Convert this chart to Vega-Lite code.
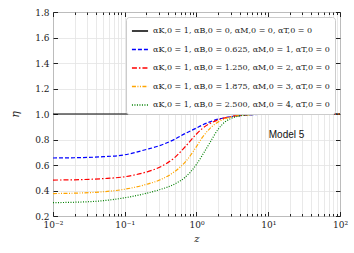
{
  "$schema": "https://vega.github.io/schema/vega-lite/v6.json",
  "width": 287,
  "height": 204,
  "autosize": {"type": "none"},
  "padding": {"left": 53, "top": 12, "right": 14, "bottom": 37},
  "background": "white",
  "config": {
    "view": {"stroke": "#222", "strokeWidth": 1},
    "font": "DejaVu Serif"
  },
  "resolve": {"axis": {"x": "independent", "y": "independent"}},
  "datasets": {
    "curves": [
      {"z": 0.01, "s": "1", "eta": 1}, {"z": 0.1, "s": "1", "eta": 1}, {"z": 1, "s": "1", "eta": 1}, {"z": 10, "s": "1", "eta": 1}, {"z": 100, "s": "1", "eta": 1},
      {"z": 0.01, "s": "2", "eta": 0.655}, {"z": 0.02, "s": "2", "eta": 0.657}, {"z": 0.05, "s": "2", "eta": 0.665}, {"z": 0.1, "s": "2", "eta": 0.68}, {"z": 0.2, "s": "2", "eta": 0.722}, {"z": 0.3, "s": "2", "eta": 0.75}, {"z": 0.5, "s": "2", "eta": 0.803}, {"z": 0.7, "s": "2", "eta": 0.848}, {"z": 1, "s": "2", "eta": 0.89}, {"z": 1.2, "s": "2", "eta": 0.913}, {"z": 1.5, "s": "2", "eta": 0.936}, {"z": 2, "s": "2", "eta": 0.96}, {"z": 2.5, "s": "2", "eta": 0.971}, {"z": 3, "s": "2", "eta": 0.979}, {"z": 4, "s": "2", "eta": 0.987}, {"z": 5, "s": "2", "eta": 0.992}, {"z": 7, "s": "2", "eta": 0.996}, {"z": 10, "s": "2", "eta": 0.999}, {"z": 20, "s": "2", "eta": 1}, {"z": 50, "s": "2", "eta": 1}, {"z": 100, "s": "2", "eta": 1},
      {"z": 0.01, "s": "3", "eta": 0.482}, {"z": 0.02, "s": "3", "eta": 0.484}, {"z": 0.05, "s": "3", "eta": 0.493}, {"z": 0.1, "s": "3", "eta": 0.508}, {"z": 0.2, "s": "3", "eta": 0.545}, {"z": 0.3, "s": "3", "eta": 0.58}, {"z": 0.5, "s": "3", "eta": 0.66}, {"z": 0.7, "s": "3", "eta": 0.745}, {"z": 1, "s": "3", "eta": 0.843}, {"z": 1.2, "s": "3", "eta": 0.885}, {"z": 1.5, "s": "3", "eta": 0.922}, {"z": 2, "s": "3", "eta": 0.954}, {"z": 2.5, "s": "3", "eta": 0.97}, {"z": 3, "s": "3", "eta": 0.98}, {"z": 4, "s": "3", "eta": 0.99}, {"z": 5, "s": "3", "eta": 0.994}, {"z": 7, "s": "3", "eta": 0.998}, {"z": 10, "s": "3", "eta": 1}, {"z": 20, "s": "3", "eta": 1}, {"z": 50, "s": "3", "eta": 1}, {"z": 100, "s": "3", "eta": 1},
      {"z": 0.01, "s": "4", "eta": 0.376}, {"z": 0.02, "s": "4", "eta": 0.379}, {"z": 0.05, "s": "4", "eta": 0.39}, {"z": 0.1, "s": "4", "eta": 0.41}, {"z": 0.2, "s": "4", "eta": 0.448}, {"z": 0.3, "s": "4", "eta": 0.48}, {"z": 0.5, "s": "4", "eta": 0.55}, {"z": 0.7, "s": "4", "eta": 0.625}, {"z": 1, "s": "4", "eta": 0.745}, {"z": 1.2, "s": "4", "eta": 0.815}, {"z": 1.5, "s": "4", "eta": 0.88}, {"z": 2, "s": "4", "eta": 0.937}, {"z": 2.5, "s": "4", "eta": 0.962}, {"z": 3, "s": "4", "eta": 0.976}, {"z": 4, "s": "4", "eta": 0.988}, {"z": 5, "s": "4", "eta": 0.993}, {"z": 7, "s": "4", "eta": 0.997}, {"z": 10, "s": "4", "eta": 1}, {"z": 20, "s": "4", "eta": 1}, {"z": 50, "s": "4", "eta": 1}, {"z": 100, "s": "4", "eta": 1},
      {"z": 0.01, "s": "5", "eta": 0.305}, {"z": 0.02, "s": "5", "eta": 0.308}, {"z": 0.05, "s": "5", "eta": 0.32}, {"z": 0.1, "s": "5", "eta": 0.343}, {"z": 0.2, "s": "5", "eta": 0.378}, {"z": 0.3, "s": "5", "eta": 0.405}, {"z": 0.5, "s": "5", "eta": 0.452}, {"z": 0.7, "s": "5", "eta": 0.505}, {"z": 1, "s": "5", "eta": 0.605}, {"z": 1.2, "s": "5", "eta": 0.675}, {"z": 1.5, "s": "5", "eta": 0.765}, {"z": 2, "s": "5", "eta": 0.88}, {"z": 2.5, "s": "5", "eta": 0.938}, {"z": 3, "s": "5", "eta": 0.964}, {"z": 4, "s": "5", "eta": 0.985}, {"z": 5, "s": "5", "eta": 0.992}, {"z": 7, "s": "5", "eta": 0.998}, {"z": 10, "s": "5", "eta": 1}, {"z": 20, "s": "5", "eta": 1}, {"z": 50, "s": "5", "eta": 1}, {"z": 100, "s": "5", "eta": 1}
    ],
    "note": [{"z": 18, "eta": 0.835, "label": "Model 5"}]
  },
  "layer": [
    {
      "data": {"name": "curves"},
      "mark": {"type": "line", "strokeWidth": 1.2, "interpolate": "monotone", "clip": true},
      "encoding": {
        "x": {
          "field": "z", "type": "quantitative",
          "scale": {"type": "log", "domain": [0.01, 100], "nice": false},
          "axis": {
            "title": "z", "titleFont": "DejaVu Serif", "titleFontStyle": "italic", "titleFontWeight": "normal", "titleFontSize": 10, "titleColor": "#222", "titlePadding": 2,
            "values": [0.01,0.02,0.03,0.04,0.05,0.06,0.07,0.08,0.09,0.1,0.2,0.3,0.4,0.5,0.6,0.7,0.8,0.9,1,2,3,4,5,6,7,8,9,10,20,30,40,50,60,70,80,90,100],
            "labelExpr": "datum.value == 0.01 ? '10⁻²' : datum.value == 0.1 ? '10⁻¹' : datum.value == 1 ? '10⁰' : datum.value == 10 ? '10¹' : datum.value == 100 ? '10²' : ''",
            "labelFont": "DejaVu Serif", "labelFontSize": 9, "labelColor": "#222", "labelPadding": 9, "labelFlush": false, "labelOverlap": false,
            "tickSize": {"condition": {"test": "datum.value == 0.01 || datum.value == 0.1 || datum.value == 1 || datum.value == 10 || datum.value == 100", "value": -4.5}, "value": -2.5},
            "tickColor": "#222", "domain": false,
            "grid": true, "gridColor": "#e3e3e3", "gridWidth": 0.8
          }
        },
        "y": {
          "field": "eta", "type": "quantitative",
          "scale": {"domain": [0.2, 1.8], "nice": false, "zero": false},
          "axis": {
            "title": "η", "titleFont": "DejaVu Serif", "titleFontStyle": "italic", "titleFontWeight": "normal", "titleFontSize": 11, "titleColor": "#222", "titlePadding": 14,
            "values": [0.2,0.4,0.6,0.8,1.0,1.2,1.4,1.6,1.8], "format": ".1f",
            "labelFont": "DejaVu Serif", "labelFontSize": 9, "labelColor": "#222", "labelPadding": 8.5, "labelOverlap": false, "labelFlush": false,
            "tickSize": -4.5, "tickColor": "#222", "domain": false,
            "grid": true, "gridColor": "#e3e3e3", "gridWidth": 0.8
          }
        },
        "color": {
          "field": "s", "type": "nominal",
          "scale": {"domain": ["1","2","3","4","5"], "range": ["#000000", "#0000ff", "#ff0000", "#ffa500", "#008000"]},
          "legend": {
            "title": null, "orient": "top-right", "offset": 5,
            "labelExpr": "datum.label == '1' ? 'αK,0 = 1, αB,0 = 0, αM,0 = 0, αT,0 = 0' : datum.label == '2' ? 'αK,0 = 1, αB,0 = 0.625, αM,0 = 1, αT,0 = 0' : datum.label == '3' ? 'αK,0 = 1, αB,0 = 1.250, αM,0 = 2, αT,0 = 0' : datum.label == '4' ? 'αK,0 = 1, αB,0 = 1.875, αM,0 = 3, αT,0 = 0' : 'αK,0 = 1, αB,0 = 2.500, αM,0 = 4, αT,0 = 0'",
            "labelFont": "DejaVu Serif", "labelFontSize": 8, "labelColor": "#222", "labelLimit": 300,
            "symbolType": "stroke", "symbolSize": 260, "symbolStrokeWidth": 1.3,
            "rowPadding": 5.5, "padding": 5,
            "fillColor": "white", "strokeColor": "#cccccc", "cornerRadius": 3
          }
        },
        "strokeDash": {
          "field": "s", "type": "nominal",
          "scale": {"domain": ["1","2","3","4","5"], "range": [[1,0],[4,2],[5,2,1.5,2],[4,1.5,1,1.5,1,1.5],[1,1.5]]},
          "legend": null
        }
      }
    },
    {
      "data": {"name": "note"},
      "mark": {"type": "text", "font": "Liberation Sans", "fontSize": 10, "color": "#111"},
      "encoding": {
        "x": {
          "field": "z", "type": "quantitative",
          "axis": {
            "orient": "top", "title": null, "labels": false, "grid": false, "domain": false,
            "values": [0.01,0.02,0.03,0.04,0.05,0.06,0.07,0.08,0.09,0.1,0.2,0.3,0.4,0.5,0.6,0.7,0.8,0.9,1,2,3,4,5,6,7,8,9,10,20,30,40,50,60,70,80,90,100],
            "tickSize": {"condition": {"test": "datum.value == 0.01 || datum.value == 0.1 || datum.value == 1 || datum.value == 10 || datum.value == 100", "value": -4.5}, "value": -2.5},
            "tickColor": "#222"
          }
        },
        "y": {
          "field": "eta", "type": "quantitative",
          "axis": {
            "orient": "right", "title": null, "labels": false, "grid": false, "domain": false,
            "values": [0.2,0.4,0.6,0.8,1.0,1.2,1.4,1.6,1.8],
            "tickSize": -4.5, "tickColor": "#222"
          }
        },
        "text": {"field": "label"}
      }
    }
  ]
}
